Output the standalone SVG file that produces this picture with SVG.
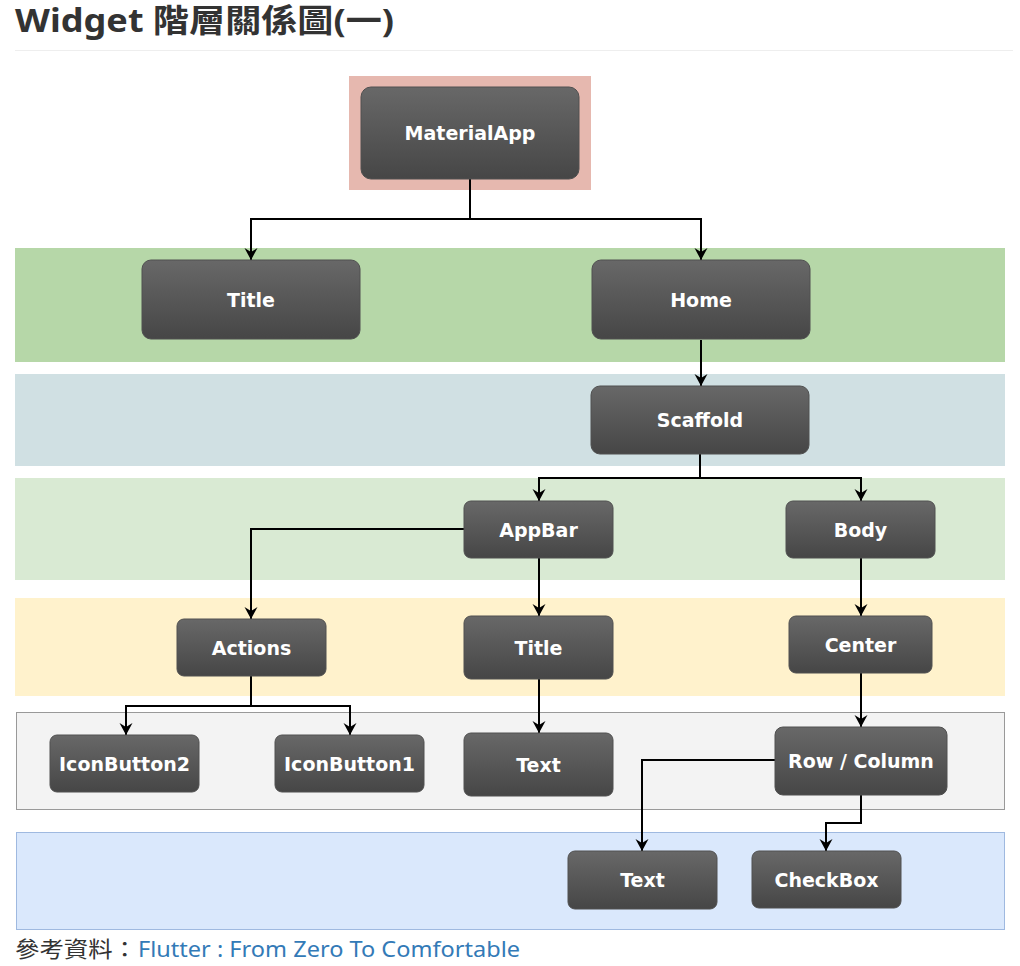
<svg xmlns="http://www.w3.org/2000/svg" width="1020" height="966" viewBox="0 0 1020 966">
<style>
.node rect{fill:url(#ng);stroke:#505050;stroke-width:1}
.node text{font-family:"DejaVu Sans",Verdana,sans-serif;font-weight:bold;font-size:19px;fill:#fff;text-anchor:middle}
.conn path{fill:none;stroke:#000;stroke-width:2;marker-end:url(#arr)}
</style>
<defs>
<linearGradient id="ng" x1="0" y1="0" x2="0" y2="1">
<stop offset="0" stop-color="#686868"/>
<stop offset="1" stop-color="#464646"/>
</linearGradient>
<marker id="arr" markerUnits="userSpaceOnUse" markerWidth="16" markerHeight="16" viewBox="-14 -8 16 16" refX="0" refY="0" orient="auto">
<path d="M0,0 L-12,-6.5 L-8,0 L-12,6.5 Z" fill="#000"/>
</marker>
</defs>
<rect width="1020" height="966" fill="#fff"/>
<text x="15" y="32" font-family="'Noto Sans','Noto Sans CJK TC',sans-serif" font-weight="bold" font-size="32" fill="#333" textLength="379" lengthAdjust="spacingAndGlyphs">Widget 階層關係圖(一)</text>
<line x1="15" y1="50.5" x2="1013" y2="50.5" stroke="#eee" stroke-width="1"/>
<g id="bands">
<rect x="349" y="76" width="242" height="114" fill="#e6b8af"/>
<rect x="15" y="248" width="990" height="114" fill="#b6d7a8"/>
<rect x="15" y="374" width="990" height="92" fill="#d0e0e3"/>
<rect x="15" y="478" width="990" height="102" fill="#d9ead3"/>
<rect x="15" y="598" width="990" height="98" fill="#fff2cc"/>
<rect x="16.5" y="712.5" width="988" height="97" fill="#f3f3f3" stroke="#999" stroke-width="1"/>
<rect x="16.5" y="832.5" width="988" height="97" fill="#dae8fc" stroke="#9fb9e0" stroke-width="1"/>
</g>
<g id="connectors" class="conn">
<path d="M470,179 V219 H251 V260"/>
<path d="M470,219 H701 V260"/>
<path d="M701,340 V386"/>
<path d="M700,454 V478 H539 V501"/>
<path d="M700,478 H861 V501"/>
<path d="M464,529 H251 V619"/>
<path d="M539,558 V616"/>
<path d="M861,558 V616"/>
<path d="M251,676 V706 H126 V735"/>
<path d="M251,706 H350 V735"/>
<path d="M539,679 V733"/>
<path d="M861,673 V727"/>
<path d="M775,760 H642 V851"/>
<path d="M861,795 V823 H826 V851"/>
</g>
<g id="n-materialapp" class="node"><rect x="361" y="87" width="218" height="92" rx="10"/><text x="470" y="140">MaterialApp</text></g>
<g id="n-title1" class="node"><rect x="142" y="260" width="218" height="79" rx="9"/><text x="251" y="306.5">Title</text></g>
<g id="n-home" class="node"><rect x="592" y="260" width="218" height="79" rx="9"/><text x="701" y="306.5">Home</text></g>
<g id="n-scaffold" class="node"><rect x="591" y="386" width="218" height="68" rx="9"/><text x="700" y="427">Scaffold</text></g>
<g id="n-appbar" class="node"><rect x="464" y="501" width="149" height="57" rx="7"/><text x="538.5" y="536.5">AppBar</text></g>
<g id="n-body" class="node"><rect x="786" y="501" width="149" height="57" rx="7"/><text x="860.5" y="536.5">Body</text></g>
<g id="n-actions" class="node"><rect x="177" y="619" width="149" height="57" rx="7"/><text x="251.5" y="654.5">Actions</text></g>
<g id="n-title2" class="node"><rect x="464" y="616" width="149" height="63" rx="7"/><text x="538.5" y="654.5">Title</text></g>
<g id="n-center" class="node"><rect x="789" y="616" width="143" height="57" rx="7"/><text x="860.5" y="651.5">Center</text></g>
<g id="n-iconbutton2" class="node"><rect x="50" y="735" width="149" height="57" rx="7"/><text x="124.5" y="770.5">IconButton2</text></g>
<g id="n-iconbutton1" class="node"><rect x="275" y="735" width="149" height="57" rx="7"/><text x="349.5" y="770.5">IconButton1</text></g>
<g id="n-text1" class="node"><rect x="464" y="733" width="149" height="63" rx="7"/><text x="538.5" y="771.5">Text</text></g>
<g id="n-rowcolumn" class="node"><rect x="775" y="727" width="172" height="68" rx="8"/><text x="861" y="768">Row / Column</text></g>
<g id="n-text2" class="node"><rect x="568" y="851" width="149" height="58" rx="7"/><text x="642.5" y="887">Text</text></g>
<g id="n-checkbox" class="node"><rect x="752" y="851" width="149" height="57" rx="7"/><text x="826.5" y="886.5">CheckBox</text></g>
<text x="15" y="957" font-family="'Noto Sans CJK TC',sans-serif" font-size="22" fill="#333" textLength="122" lengthAdjust="spacingAndGlyphs">參考資料：</text>
<text x="138" y="957" font-family="'Noto Sans',sans-serif" font-size="22" fill="#337ab7" textLength="382" lengthAdjust="spacingAndGlyphs">Flutter : From Zero To Comfortable</text>
</svg>
